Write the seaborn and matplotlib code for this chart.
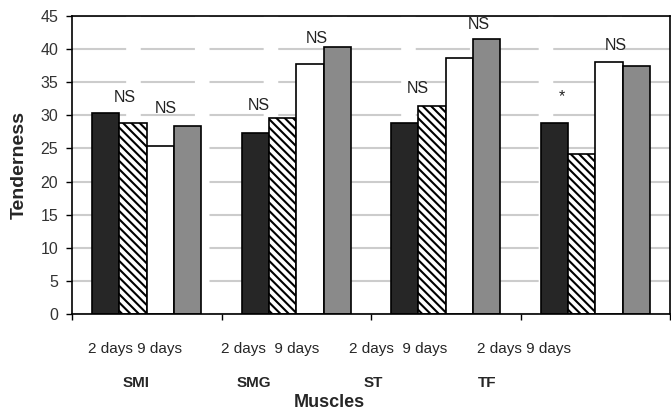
import numpy as np
import pandas as pd
import matplotlib
matplotlib.use("Agg")
import matplotlib.pyplot as plt
import seaborn as sns

# data
muscles = ["SMI", "SMG", "ST", "TF"]
series = ["2 days A", "2 days B", "9 days A", "9 days B"]
tenderness = {
    "2 days A": [30.4, 27.4, 28.8, 28.8],
    "2 days B": [28.9, 29.6, 31.4, 24.2],
    "9 days A": [25.3, 37.7, 38.7, 38.0],
    "9 days B": [28.4, 40.3, 41.6, 37.5],
}
day_labels = ["2 days 9 days", "2 days  9 days", "2 days  9 days", "2 days 9 days"]

# significance marks (data coords)
sig_text = ["NS", "NS", "NS", "NS", "NS", "NS", "*", "NS"]
sig_x = [-0.15, 0.13, 0.75, 1.14, 1.81, 2.22, 2.78, 3.14]
sig_y = [32.0, 30.4, 30.8, 40.9, 33.4, 43.0, 32.2, 39.9]

df = pd.DataFrame(
    [(m, s, tenderness[s][i]) for s in series for i, m in enumerate(muscles)],
    columns=["muscle", "series", "tenderness"],
)

sns.set_theme(style="white")
plt.rcParams["font.family"] = ["Liberation Sans", "DejaVu Sans"]
plt.rcParams["hatch.linewidth"] = 1.5

W, H = 671, 413
fig = plt.figure(figsize=(W / 100, H / 100), dpi=100)
ax = fig.add_axes([72 / W, 1 - 314 / H, 598 / W, 298 / H])

colors = ["#262626", "white", "white", "#8a8a8a"]
sns.barplot(data=df, x="muscle", y="tenderness", hue="series",
            order=muscles, hue_order=series, palette=colors,
            width=0.73, edgecolor="black", linewidth=1.2,
            legend=False, ax=ax, zorder=2)

for p in ax.containers[1]:
    p.set_hatch("\\\\\\\\")

ax.set_ylim(0, 45)
ax.set_yticks(np.arange(0, 46, 5))
ax.set_xlim(-0.5, 3.5)
ax.set_xticks(np.arange(-0.5, 3.6, 1))
ax.set_xticklabels([])
ax.tick_params(axis="both", direction="out", length=4, width=1, color="black",
               left=True, bottom=True, labelsize=11.5, pad=6, labelcolor="#333333")
ax.set_xlabel("")
ax.set_ylabel("")

ax.yaxis.grid(True, color="#cccccc", linewidth=1.5, linestyle=(0, (26, 7)))
ax.set_axisbelow(True)
for sp in ax.spines.values():
    sp.set_color("black")
    sp.set_linewidth(1.2)

for t, x, y in zip(sig_text, sig_x, sig_y):
    ax.text(x, y, t, ha="center", va="baseline", fontsize=11.5, color="#222222")

# labels below the axis (pixel positions from the reference)
day_x = [135, 270, 398, 524]
name_x = [136, 254, 373, 487]
for lab, x in zip(day_labels, day_x):
    fig.text(x / W, 1 - 353 / H, lab, ha="center", va="baseline", fontsize=11)
for lab, x in zip(muscles, name_x):
    fig.text(x / W, 1 - 387 / H, lab, ha="center", va="baseline",
             fontsize=11, fontweight="bold")
fig.text(329 / W, 1 - 407 / H, "Muscles", ha="center", va="baseline",
         fontsize=13, fontweight="bold")
fig.text(19 / W, 1 - 165 / H, "Tenderness", ha="center", va="center",
         rotation=90, fontsize=14, fontweight="bold")

fig.savefig("out.png", dpi=100)
